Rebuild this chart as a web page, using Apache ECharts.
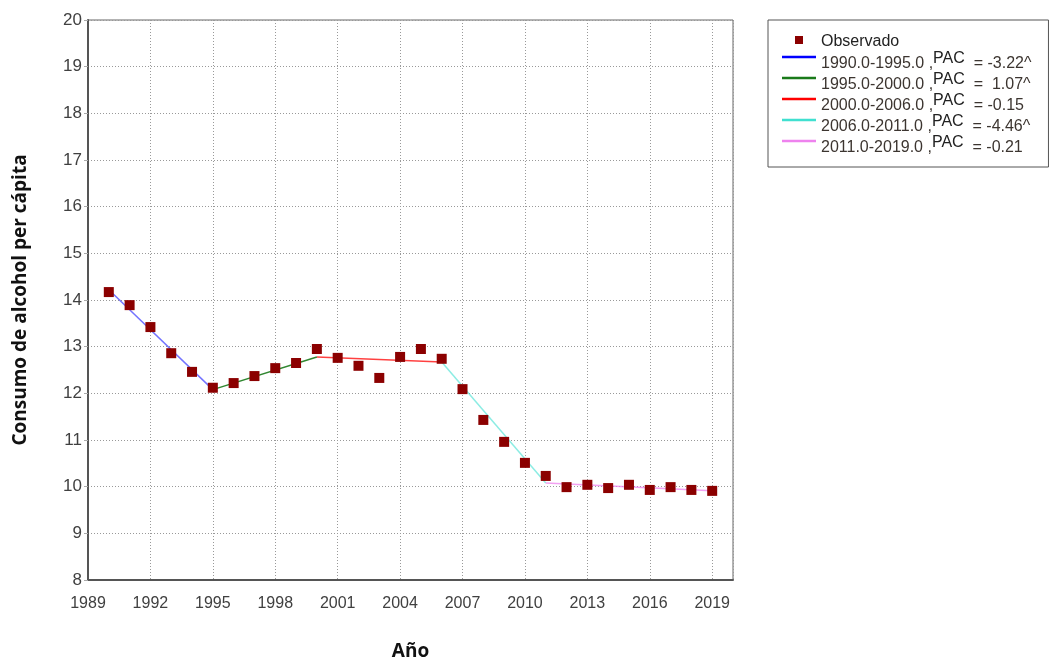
<!DOCTYPE html>
<html>
<head>
<meta charset="utf-8">
<script src="https://cdn.jsdelivr.net/npm/echarts@6/dist/echarts.min.js"></script>
<style>
html,body{margin:0;padding:0;background:#fff;}
#chart{width:1059px;height:659px;}
</style>
</head>
<body>
<div id="chart"></div>
<script>
// ---- Data ----
const years = [1990,1991,1992,1993,1994,1995,1996,1997,1998,1999,2000,2001,2002,2003,2004,2005,2006,2007,2008,2009,2010,2011,2012,2013,2014,2015,2016,2017,2018,2019];
const observed = [14.17,13.89,13.42,12.86,12.46,12.12,12.22,12.37,12.54,12.65,12.95,12.76,12.59,12.33,12.78,12.95,12.74,12.09,11.43,10.96,10.51,10.23,9.99,10.04,9.97,10.04,9.93,9.99,9.93,9.91];
const segNames = ['1990.0-1995.0 ,','1995.0-2000.0 ,','2000.0-2006.0 ,','2006.0-2011.0 ,','2011.0-2019.0 ,'];
const segPAC = ['= -3.22^','=  1.07^','= -0.15','= -4.46^','= -0.21'];
const segStart = [1990,1995,2000,2006,2011];
const segEnd = [1995,2000,2006,2011,2019];
const segStartVal = [14.22,12.08,12.78,12.67,10.08];
const segEndVal = [12.08,12.78,12.67,10.08,9.91];
const segColors = ['#0000ff','#1a7a1a','#ff0000','#40e0d0','#ee82ee'];
const segOpacity = [0.55,0.9,0.75,0.6,0.75];
const xTicks = {min:1989,max:2020,interval:3};
const yTicks = {min:8,max:20,interval:1};

const REG = "'Liberation Sans', Arial, sans-serif";
const TITLE = "'Open Sans', 'Liberation Sans', sans-serif";

const series = [{
  name:'Observado',
  type:'scatter',
  symbol:'rect',
  symbolSize:10,
  z:5,
  itemStyle:{color:'#8b0000', opacity:1},
  data: years.map((y,i)=>[y,observed[i]])
}];
const legendData = [{name:'Observado', icon:'path://M0,0h7v7h-7z'}];
segNames.forEach((n,i)=>{
  const key = 'seg'+i;
  series.push({
    name:key,
    type:'line',
    symbol:'none',
    z:3,
    silent:true,
    color:segColors[i],
    lineStyle:{color:segColors[i], width:1.5, opacity:segOpacity[i]},
    data:[[segStart[i],segStartVal[i]],[segEnd[i],segEndVal[i]]]
  });
  legendData.push({name:key, icon:'path://M0,0L34,0L34,2.6L0,2.6Z'});
});

const chart = echarts.init(document.getElementById('chart'));
chart.setOption({
  animation:false,
  textStyle:{fontFamily:REG},
  grid:{left:88, top:20, right:326, bottom:79, show:true, borderColor:'#666', borderWidth:1,
        containLabel:false, outerBoundsMode:'none'},
  xAxis:{
    type:'value', min:xTicks.min, max:xTicks.max, interval:xTicks.interval,
    name:'Año', nameLocation:'middle', nameGap:62,
    nameTextStyle:{fontSize:19, fontWeight:'bold', color:'#111', fontFamily:TITLE},
    axisLine:{show:true, onZero:false, lineStyle:{color:'#555', width:2}},
    axisTick:{show:false},
    axisLabel:{fontSize:16, color:'#404040', margin:16, fontFamily:REG,
      formatter:v=> (v-xTicks.min)%xTicks.interval===0 ? String(v) : ''},
    splitLine:{show:true, lineStyle:{type:[1,2], color:'#999', width:1}}
  },
  yAxis:{
    type:'value', min:yTicks.min, max:yTicks.max, interval:yTicks.interval,
    name:'Consumo de alcohol per cápita', nameLocation:'middle', nameGap:58,
    nameTextStyle:{fontSize:19, fontWeight:'bold', color:'#111', fontFamily:TITLE},
    axisLine:{show:true, lineStyle:{color:'#555', width:2}},
    axisTick:{show:true, length:4, lineStyle:{color:'#aaa'}},
    axisLabel:{fontSize:17, color:'#404040', margin:6, fontFamily:REG},
    splitLine:{show:true, lineStyle:{type:[1,2], color:'#999', width:1}}
  },
  legend:{
    orient:'vertical', left:768, top:20,
    padding:[9,17,11,14],
    borderColor:'#555', borderWidth:1, borderRadius:0,
    itemWidth:34, itemHeight:8, itemGap:-5,
    data:legendData,
    selectedMode:false,
    formatter:function(name){
      if(name==='Observado') return '{o|Observado}{p| }';
      const i = +name.slice(3);
      return '{a|'+segNames[i]+'}{p|PAC}{c|  '+segPAC[i]+'}';
    },
    textStyle:{
      fontFamily:REG,
      rich:{
        o:{fontSize:16, color:'#222', lineHeight:22, height:14, padding:[0,0,2,0], verticalAlign:'bottom', fontFamily:REG},
        a:{fontSize:16, color:'#3c3530', lineHeight:22, height:8, verticalAlign:'bottom', fontFamily:REG},
        p:{fontSize:16, color:'#222', lineHeight:22, height:18, padding:[4,0,0,0], verticalAlign:'top', fontFamily:REG},
        c:{fontSize:16, color:'#3c3530', lineHeight:22, height:8, verticalAlign:'bottom', fontFamily:REG}
      }
    }
  },
  series:series
});
</script>
</body>
</html>
